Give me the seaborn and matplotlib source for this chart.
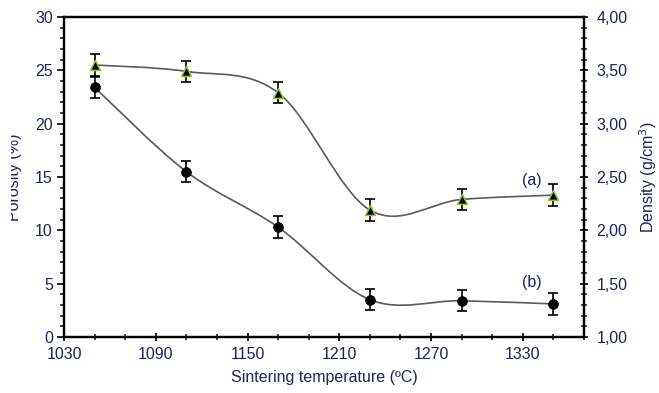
import numpy as np
import pandas as pd
import matplotlib
matplotlib.use("Agg")
import matplotlib.pyplot as plt
from matplotlib.path import Path
from matplotlib.patches import PathPatch
from matplotlib.transforms import Bbox, TransformedBbox
from matplotlib.ticker import FixedLocator, FuncFormatter, MultipleLocator
import seaborn as sns

# ---- data ----
temperature = [1050, 1110, 1170, 1230, 1290, 1350]
density = [3.55, 3.49, 3.29, 2.19, 2.29, 2.33]        # (a) right axis
density_err = [0.10, 0.10, 0.10, 0.10, 0.10, 0.10]
porosity = [23.4, 15.5, 10.3, 3.5, 3.4, 3.1]           # (b) left axis
porosity_err = [1.0, 1.0, 1.0, 1.0, 1.0, 1.0]
x_major_ticks = [1030, 1090, 1150, 1210, 1270, 1330]

sns.set_style("ticks")
plt.rcParams['font.family'] = ['Liberation Sans', 'DejaVu Sans']

navy = '#1f2160'
W, H = 659, 393

fig = plt.figure(figsize=(W / 100, H / 100), dpi=100)
ax = fig.add_axes([64 / W, 56 / H, 520 / W, 320 / H])
ax2 = ax.twinx()


def smooth_path(xs, ys):
    """Excel-style smoothed line (Catmull-Rom as cubic Bezier)."""
    p = np.column_stack([xs, ys]).astype(float)
    ext = np.vstack([p[0], p, p[-1]])
    verts = [p[0]]
    codes = [Path.MOVETO]
    for i in range(len(p) - 1):
        p0, p1, p2, p3 = ext[i], ext[i + 1], ext[i + 2], ext[i + 3]
        c1 = p1 + (p2 - p0) / 6.0
        c2 = p2 - (p3 - p1) / 6.0
        verts += [c1, c2, p2]
        codes += [Path.CURVE4] * 3
    return Path(verts, codes)


line_color = '#5a5a5a'
ax.add_patch(PathPatch(smooth_path(temperature, porosity), fill=False,
                       edgecolor=line_color, lw=1.2, zorder=2))
ax2.add_patch(PathPatch(smooth_path(temperature, density), fill=False,
                        edgecolor=line_color, lw=1.2, zorder=2))

df_p = pd.DataFrame({'T': temperature, 'v': porosity})
df_d = pd.DataFrame({'T': temperature, 'v': density})

ax.errorbar(temperature, porosity, yerr=porosity_err, fmt='none',
            ecolor='black', elinewidth=1.2, capsize=3.5, capthick=1.2, zorder=3)
sns.scatterplot(data=df_p, x='T', y='v', ax=ax, marker='o', s=50,
                color='black', edgecolor='black', linewidth=0.5, zorder=4)

ax2.errorbar(temperature, density, yerr=density_err, fmt='none',
             ecolor='black', elinewidth=1.2, capsize=3.5, capthick=1.2, zorder=3)
sns.scatterplot(data=df_d, x='T', y='v', ax=ax2, marker='^', s=50,
                color='black', edgecolor='#8fbf3a', linewidth=1.1, zorder=4)

# axes limits & ticks
ax.set_xlim(1030, 1370)
ax.set_ylim(0, 30)
ax2.set_ylim(1.0, 4.0)

ax.xaxis.set_major_locator(FixedLocator(x_major_ticks))
ax.xaxis.set_minor_locator(FixedLocator(np.arange(1030, 1371, 20)))
ax.yaxis.set_major_locator(MultipleLocator(5))
ax.yaxis.set_minor_locator(MultipleLocator(1))
ax2.yaxis.set_major_locator(MultipleLocator(0.5))
ax2.yaxis.set_minor_locator(MultipleLocator(0.1))
ax2.yaxis.set_major_formatter(FuncFormatter(lambda v, p: f"{v:.2f}".replace('.', ',')))

for a in (ax, ax2):
    for s in a.spines.values():
        s.set_visible(True)
        s.set_linewidth(1.6)
        s.set_color('black')

ax.tick_params(axis='y', which='major', direction='out', length=5, width=1.4,
               labelsize=11.5, labelcolor=navy, pad=3)
ax.tick_params(axis='y', which='minor', direction='out', length=3, width=1.2)
ax.tick_params(axis='x', which='major', direction='inout', length=6, width=1.4,
               labelsize=11.5, labelcolor=navy, pad=4)
ax.tick_params(axis='x', which='minor', direction='inout', length=5, width=1.2)
ax2.tick_params(axis='y', which='major', direction='inout', length=6, width=1.4,
                labelsize=11.5, labelcolor=navy, pad=6)
ax2.tick_params(axis='y', which='minor', direction='inout', length=5, width=1.2)

ax.set_xlabel('Sintering temperature (ºC)', fontsize=11.5, color=navy, labelpad=6)
ax.set_ylabel('Porosity (%)', fontsize=11.5, color=navy)
ax.yaxis.set_label_coords((22 - 64) / 520, 0.5)
# the left label is partly cut off in the original picture
lbl = ax.yaxis.label
lbl.set_clip_box(TransformedBbox(Bbox([[11 / W, 0], [1, 1]]), fig.transFigure))
lbl.set_clip_on(True)

ax2.set_ylabel('Density (g/cm$^3$)', fontsize=11.5, color=navy, labelpad=7)

ax.text(1336, 14.7, '(a)', fontsize=11.5, color=navy, ha='center', va='center')
ax.text(1336, 5.15, '(b)', fontsize=11.5, color=navy, ha='center', va='center')

fig.savefig('out.png', dpi=100)
